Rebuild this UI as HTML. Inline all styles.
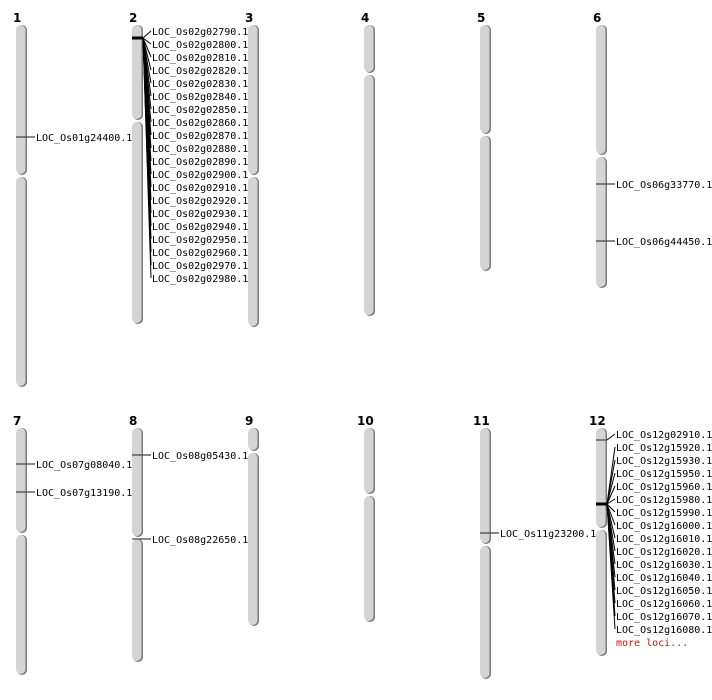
<!DOCTYPE html>
<html><head><meta charset="utf-8"><style>
html,body{margin:0;padding:0;background:#fff;width:712px;height:700px;overflow:hidden}
svg text{font-family:"DejaVu Sans Mono","Liberation Mono",monospace;font-size:10px;fill:#000}
.n{font-family:"DejaVu Sans","Liberation Sans",sans-serif;font-weight:bold;font-size:12px}
.s{fill:#7a7a7a}.c{fill:#d4d4d4}
</style></head><body>
<svg width="712" height="700" xmlns="http://www.w3.org/2000/svg">
<g>
<!-- chrom shapes: shadow then body -->
<!-- 1 -->
<rect class="s" x="17" y="25" width="10" height="150" rx="5"/><rect class="c" x="16" y="25" width="9.5" height="149" rx="5"/>
<rect class="s" x="17" y="177" width="10" height="210" rx="5"/><rect class="c" x="16" y="177" width="9.5" height="209" rx="5"/>
<!-- 2 -->
<rect class="s" x="133" y="25" width="10" height="95" rx="5"/><rect class="c" x="132" y="25" width="9.5" height="94" rx="5"/>
<rect class="s" x="133" y="122" width="10" height="202" rx="5"/><rect class="c" x="132" y="122" width="9.5" height="201" rx="5"/>
<!-- 3 -->
<rect class="s" x="249" y="25" width="10" height="150" rx="5"/><rect class="c" x="248" y="25" width="9.5" height="149" rx="5"/>
<rect class="s" x="249" y="177" width="10" height="150" rx="5"/><rect class="c" x="248" y="177" width="9.5" height="149" rx="5"/>
<!-- 4 -->
<rect class="s" x="365" y="25" width="10" height="48" rx="5"/><rect class="c" x="364" y="25" width="9.5" height="47" rx="5"/>
<rect class="s" x="365" y="75" width="10" height="241" rx="5"/><rect class="c" x="364" y="75" width="9.5" height="240" rx="5"/>
<!-- 5 -->
<rect class="s" x="481" y="25" width="10" height="109" rx="5"/><rect class="c" x="480" y="25" width="9.5" height="108" rx="5"/>
<rect class="s" x="481" y="136" width="10" height="135" rx="5"/><rect class="c" x="480" y="136" width="9.5" height="134" rx="5"/>
<!-- 6 -->
<rect class="s" x="597" y="25" width="10" height="130" rx="5"/><rect class="c" x="596" y="25" width="9.5" height="129" rx="5"/>
<rect class="s" x="597" y="157" width="10" height="131" rx="5"/><rect class="c" x="596" y="157" width="9.5" height="130" rx="5"/>
<!-- 7 -->
<rect class="s" x="17" y="428" width="10" height="105" rx="5"/><rect class="c" x="16" y="428" width="9.5" height="104" rx="5"/>
<rect class="s" x="17" y="535" width="10" height="140" rx="5"/><rect class="c" x="16" y="535" width="9.5" height="139" rx="5"/>
<!-- 8 -->
<rect class="s" x="133" y="428" width="10" height="109" rx="5"/><rect class="c" x="132" y="428" width="9.5" height="108" rx="5"/>
<rect class="s" x="133" y="539" width="10" height="123" rx="5"/><rect class="c" x="132" y="539" width="9.5" height="122" rx="5"/>
<!-- 9 -->
<rect class="s" x="249" y="428" width="10" height="23" rx="5"/><rect class="c" x="248" y="428" width="9.5" height="22" rx="5"/>
<rect class="s" x="249" y="453" width="10" height="173" rx="5"/><rect class="c" x="248" y="453" width="9.5" height="172" rx="5"/>
<!-- 10 -->
<rect class="s" x="365" y="428" width="10" height="66" rx="5"/><rect class="c" x="364" y="428" width="9.5" height="65" rx="5"/>
<rect class="s" x="365" y="496" width="10" height="126" rx="5"/><rect class="c" x="364" y="496" width="9.5" height="125" rx="5"/>
<!-- 11 -->
<rect class="s" x="481" y="428" width="10" height="116" rx="5"/><rect class="c" x="480" y="428" width="9.5" height="115" rx="5"/>
<rect class="s" x="481" y="546" width="10" height="133" rx="5"/><rect class="c" x="480" y="546" width="9.5" height="132" rx="5"/>
<!-- 12 -->
<rect class="s" x="597" y="428" width="10" height="100" rx="5"/><rect class="c" x="596" y="428" width="9.5" height="99" rx="5"/>
<rect class="s" x="597" y="530" width="10" height="126" rx="5"/><rect class="c" x="596" y="530" width="9.5" height="125" rx="5"/>
</g>
<!-- numbers -->
<text class="n" x="13" y="22">1</text><text class="n" x="129" y="22">2</text><text class="n" x="245" y="22">3</text>
<text class="n" x="361" y="22">4</text><text class="n" x="477" y="22">5</text><text class="n" x="593" y="22">6</text>
<text class="n" x="13" y="425">7</text><text class="n" x="129" y="425">8</text><text class="n" x="245" y="425">9</text>
<text class="n" x="357" y="425">10</text><text class="n" x="473" y="425">11</text><text class="n" x="589" y="425">12</text>
<!-- simple markers -->
<g stroke="#444" stroke-width="1.2">
<line x1="16" y1="137" x2="35" y2="137"/>
<line x1="596" y1="184" x2="615" y2="184"/>
<line x1="596" y1="241" x2="615" y2="241"/>
<line x1="16" y1="464" x2="35" y2="464"/>
<line x1="16" y1="492" x2="35" y2="492"/>
<line x1="132" y1="455" x2="151" y2="455"/>
<line x1="132" y1="539" x2="151" y2="539"/>
<line x1="480" y1="533" x2="499" y2="533"/>
</g>
<text x="36" y="141">LOC_Os01g24400.1</text>
<text x="616" y="188">LOC_Os06g33770.1</text>
<text x="616" y="245">LOC_Os06g44450.1</text>
<text x="36" y="468">LOC_Os07g08040.1</text>
<text x="36" y="496">LOC_Os07g13190.1</text>
<text x="152" y="459">LOC_Os08g05430.1</text>
<text x="152" y="543">LOC_Os08g22650.1</text>
<text x="500" y="537">LOC_Os11g23200.1</text>
<!-- chr2 cluster -->
<line x1="132" y1="38" x2="143" y2="38" stroke="#000" stroke-width="3"/>
<g stroke="#000" stroke-width="1">
<line x1="143" y1="38" x2="151" y2="31"/><line x1="143" y1="38" x2="151" y2="44"/><line x1="143" y1="38" x2="151" y2="57"/>
<line x1="143" y1="38" x2="151" y2="70"/><line x1="143" y1="38" x2="151" y2="83"/><line x1="143" y1="38" x2="151" y2="96"/>
<line x1="143" y1="38" x2="151" y2="109"/><line x1="143" y1="38" x2="151" y2="122"/><line x1="143" y1="38" x2="151" y2="135"/>
<line x1="143" y1="38" x2="151" y2="148"/><line x1="143" y1="38" x2="151" y2="161"/><line x1="143" y1="38" x2="151" y2="174"/>
<line x1="143" y1="38" x2="151" y2="187"/><line x1="143" y1="38" x2="151" y2="200"/><line x1="143" y1="38" x2="151" y2="213"/>
<line x1="143" y1="38" x2="151" y2="226"/><line x1="143" y1="38" x2="151" y2="239"/><line x1="143" y1="38" x2="151" y2="252"/>
<line x1="143" y1="38" x2="151" y2="265"/><line x1="143" y1="38" x2="151" y2="278"/>
</g>
<text x="152" y="35">LOC_Os02g02790.1</text><text x="152" y="48">LOC_Os02g02800.1</text><text x="152" y="61">LOC_Os02g02810.1</text>
<text x="152" y="74">LOC_Os02g02820.1</text><text x="152" y="87">LOC_Os02g02830.1</text><text x="152" y="100">LOC_Os02g02840.1</text>
<text x="152" y="113">LOC_Os02g02850.1</text><text x="152" y="126">LOC_Os02g02860.1</text><text x="152" y="139">LOC_Os02g02870.1</text>
<text x="152" y="152">LOC_Os02g02880.1</text><text x="152" y="165">LOC_Os02g02890.1</text><text x="152" y="178">LOC_Os02g02900.1</text>
<text x="152" y="191">LOC_Os02g02910.1</text><text x="152" y="204">LOC_Os02g02920.1</text><text x="152" y="217">LOC_Os02g02930.1</text>
<text x="152" y="230">LOC_Os02g02940.1</text><text x="152" y="243">LOC_Os02g02950.1</text><text x="152" y="256">LOC_Os02g02960.1</text>
<text x="152" y="269">LOC_Os02g02970.1</text><text x="152" y="282">LOC_Os02g02980.1</text>
<!-- chr12 cluster -->
<line x1="596" y1="440" x2="607" y2="440" stroke="#444" stroke-width="1.2"/>
<line x1="596" y1="504" x2="607" y2="504" stroke="#000" stroke-width="3"/>
<g stroke="#000" stroke-width="1">
<line x1="607" y1="440" x2="615" y2="434"/>
<line x1="607" y1="504" x2="615" y2="447"/><line x1="607" y1="504" x2="615" y2="460"/><line x1="607" y1="504" x2="615" y2="473"/>
<line x1="607" y1="504" x2="615" y2="486"/><line x1="607" y1="504" x2="615" y2="499"/><line x1="607" y1="504" x2="615" y2="512"/>
<line x1="607" y1="504" x2="615" y2="525"/><line x1="607" y1="504" x2="615" y2="538"/><line x1="607" y1="504" x2="615" y2="551"/>
<line x1="607" y1="504" x2="615" y2="564"/><line x1="607" y1="504" x2="615" y2="577"/><line x1="607" y1="504" x2="615" y2="590"/>
<line x1="607" y1="504" x2="615" y2="603"/><line x1="607" y1="504" x2="615" y2="616"/><line x1="607" y1="504" x2="615" y2="629"/>
</g>
<text x="616" y="438">LOC_Os12g02910.1</text><text x="616" y="451">LOC_Os12g15920.1</text><text x="616" y="464">LOC_Os12g15930.1</text>
<text x="616" y="477">LOC_Os12g15950.1</text><text x="616" y="490">LOC_Os12g15960.1</text><text x="616" y="503">LOC_Os12g15980.1</text>
<text x="616" y="516">LOC_Os12g15990.1</text><text x="616" y="529">LOC_Os12g16000.1</text><text x="616" y="542">LOC_Os12g16010.1</text>
<text x="616" y="555">LOC_Os12g16020.1</text><text x="616" y="568">LOC_Os12g16030.1</text><text x="616" y="581">LOC_Os12g16040.1</text>
<text x="616" y="594">LOC_Os12g16050.1</text><text x="616" y="607">LOC_Os12g16060.1</text><text x="616" y="620">LOC_Os12g16070.1</text>
<text x="616" y="633">LOC_Os12g16080.1</text>
<text x="616" y="646" style="fill:#d01010">more loci...</text>
</svg>
</body></html>
